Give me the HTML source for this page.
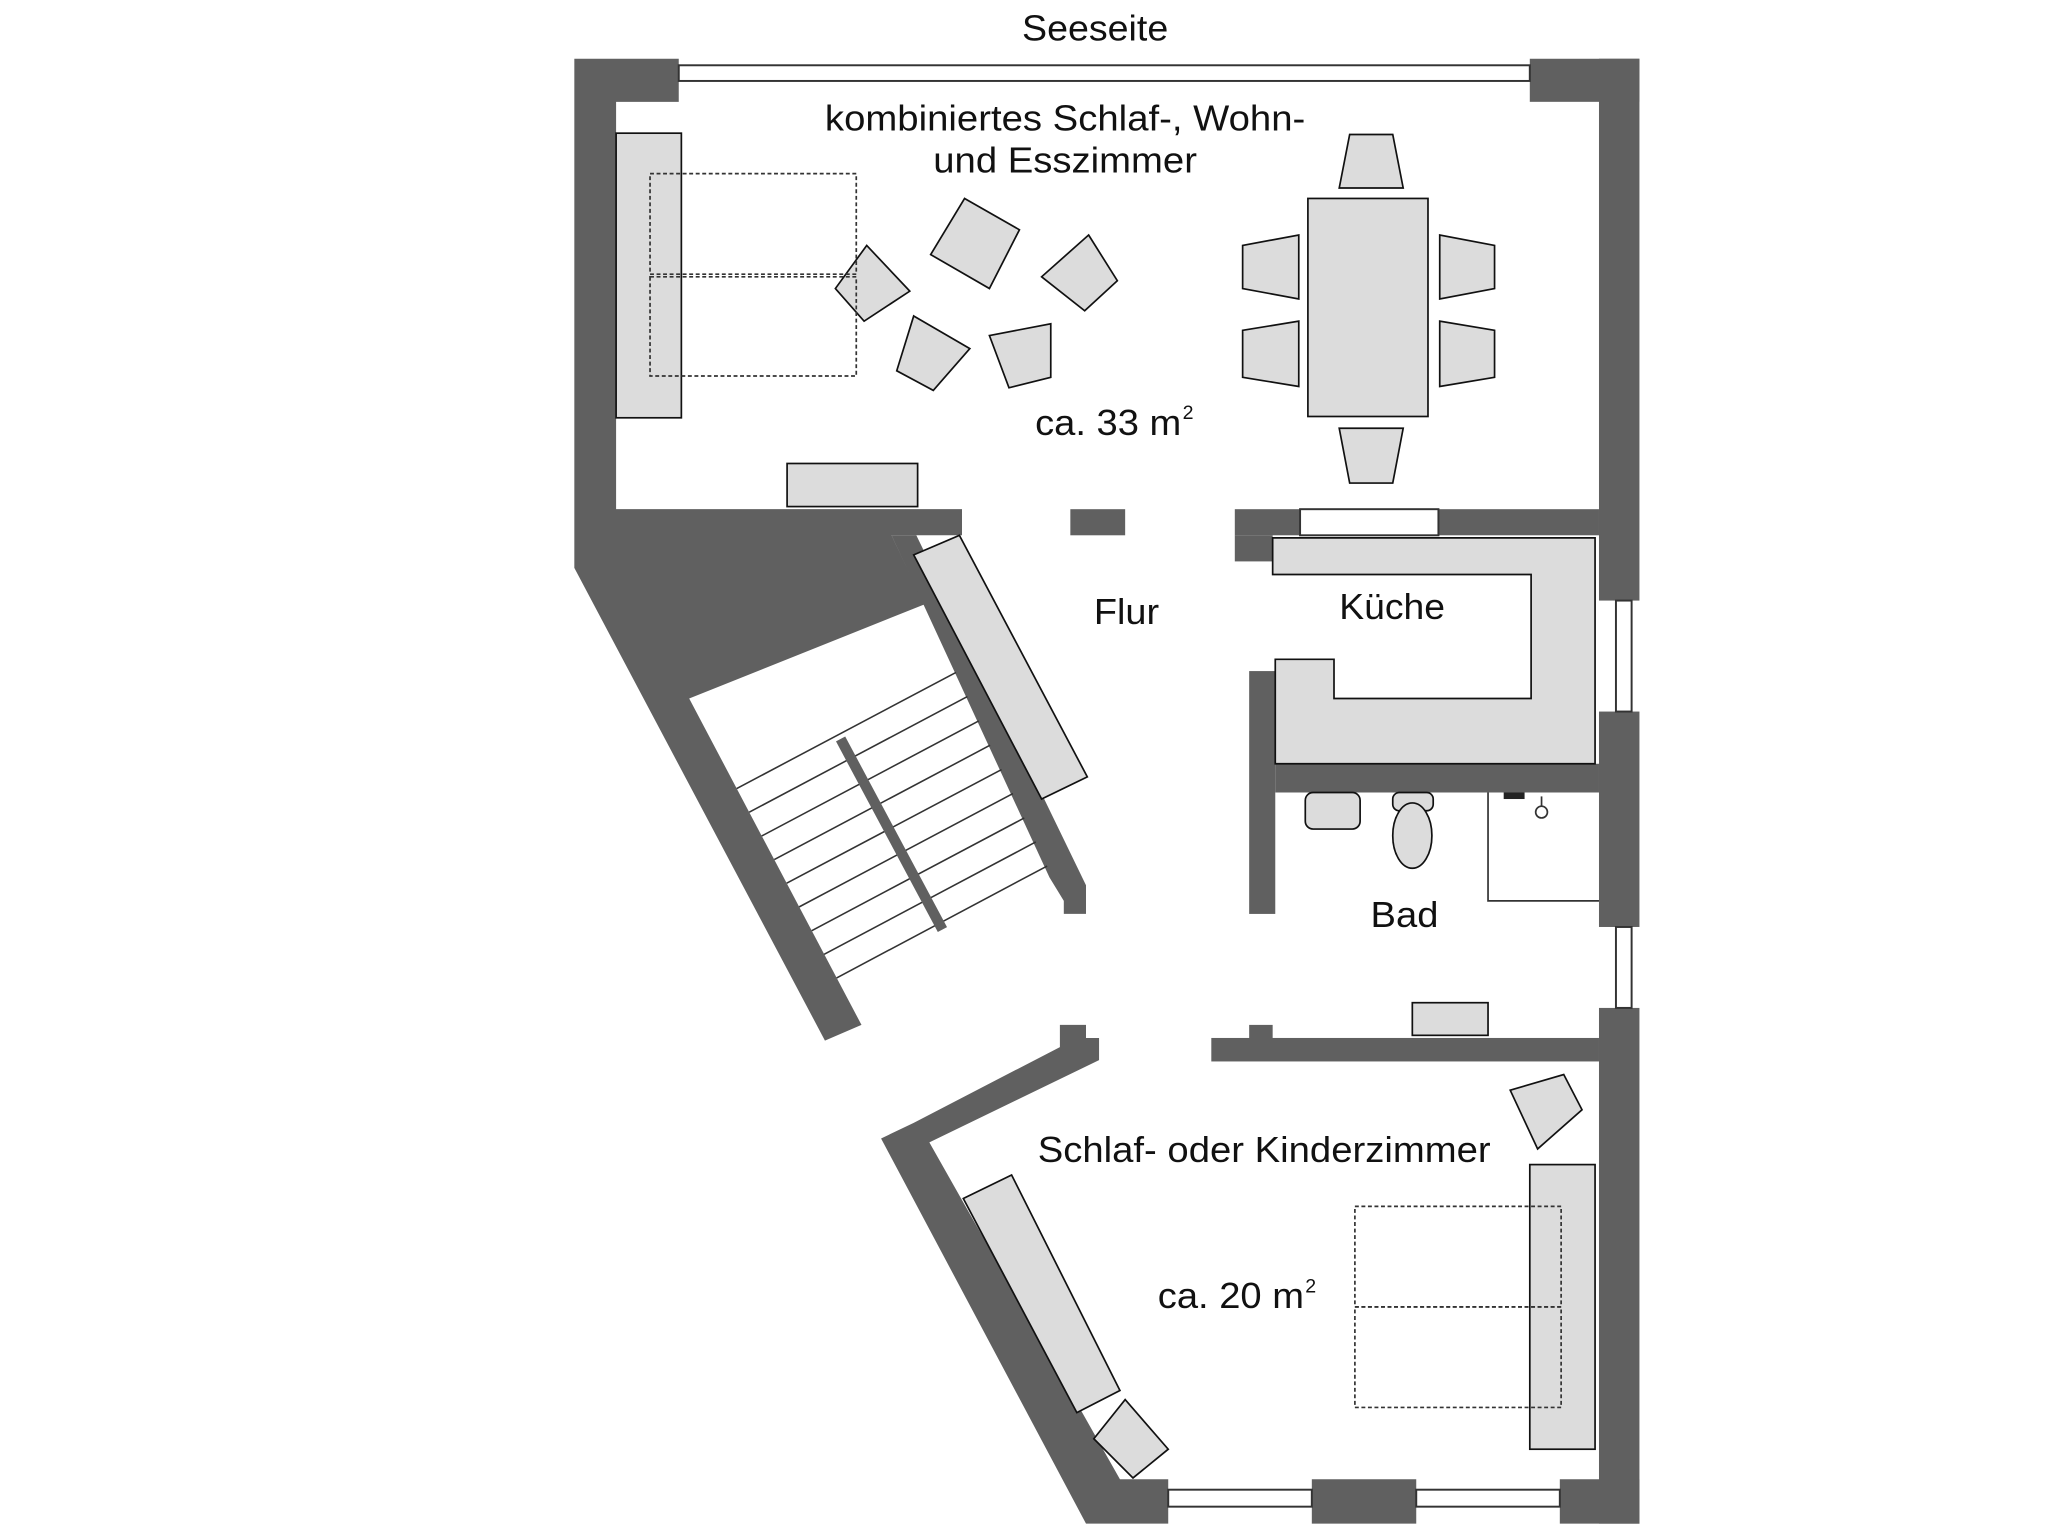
<!DOCTYPE html>
<html><head><meta charset="utf-8"><style>html,body{margin:0;padding:0;background:#fff}svg{display:block}</style></head>
<body>
<svg xmlns="http://www.w3.org/2000/svg" width="2048" height="1538" viewBox="0 0 1569 1178" preserveAspectRatio="none">
<g fill="#606060">
<polygon points="440,45 520,45 520,78 472,78 472,390 737,390 737,410 683,410 708,463 528,535 660,785 632,797 440,435"/>
<polygon points="683,410 702,410 832,678 832,700 815,700 815,690 804,672"/>
<rect x="1172" y="45" width="84" height="33"/>
<rect x="1225" y="45" width="31" height="415"/>
<rect x="1225" y="545" width="31" height="165"/>
<rect x="1225" y="772" width="31" height="395"/>
<rect x="820" y="390" width="42" height="20"/>
<rect x="946" y="390" width="50" height="20"/>
<rect x="946" y="410" width="29" height="20"/>
<rect x="1102" y="390" width="123" height="20"/>
<rect x="957" y="514" width="20" height="186"/>
<rect x="977" y="585" width="248" height="22"/>
<rect x="928" y="795" width="297" height="18"/>
<rect x="957" y="785" width="18" height="12"/>
<polygon points="812,785 832,785 832,795 842,795 842,812 712,875 858,1133 895,1133 895,1167 832,1167 675,872 700,860 812,802"/>
<rect x="1005" y="1133" width="80" height="34"/>
<rect x="1195" y="1133" width="61" height="34"/>
</g>
<g fill="#fff" stroke="#333" stroke-width="1.5">
<rect x="520" y="50" width="652" height="12"/>
<rect x="1238" y="460" width="12" height="85"/>
<rect x="1238" y="710" width="12" height="62"/>
<rect x="895" y="1141" width="110" height="13"/>
<rect x="1085" y="1141" width="110" height="13"/>
<rect x="996" y="390" width="106" height="20"/>
</g>
<g stroke="#333" stroke-width="1.2">
<line x1="564.4" y1="604" x2="732.4" y2="515"/>
<line x1="574.0" y1="622.1" x2="741.1" y2="533.5"/>
<line x1="583.6" y1="640.3" x2="749.8" y2="552.2"/>
<line x1="593.2" y1="658.4" x2="758.5" y2="570.8"/>
<line x1="602.7" y1="676.5" x2="767.3" y2="589.4"/>
<line x1="612.3" y1="694.6" x2="776.0" y2="607.8"/>
<line x1="621.9" y1="712.8" x2="784.7" y2="626.5"/>
<line x1="631.4" y1="730.9" x2="793.5" y2="644.9"/>
<line x1="641.0" y1="749" x2="802.2" y2="663.3"/>
</g>
<line x1="644" y1="566" x2="722" y2="712" stroke="#606060" stroke-width="8"/>
<g fill="#dcdcdc" stroke="#111" stroke-width="1.3">
<rect x="472" y="102" width="50" height="218"/>
<rect x="603" y="355" width="100" height="33"/>
<polygon points="700,425 735,410 833,595 798,612"/>
<polygon points="664,188 697,223 662,246 640,221"/>
<polygon points="739,152 781,176 758,221 713,195"/>
<polygon points="834,180 856,215 831,238 798,212"/>
<polygon points="700,242 743,267 715,299 687,284"/>
<polygon points="758,257 805,248 805,289 773,297"/>
<rect x="1002" y="152" width="92" height="167"/>
<polygon points="1034,103 1067,103 1075,144 1026,144"/>
<polygon points="1026,328 1075,328 1067,370 1034,370"/>
<polygon points="995,180 995,229 952,221 952,188"/>
<polygon points="995,246 995,296 952,289 952,253"/>
<polygon points="1103,180 1103,229 1145,221 1145,188"/>
<polygon points="1103,246 1103,296 1145,289 1145,253"/>
<polygon points="975,412 1222,412 1222,585 977,585 977,505 1022,505 1022,535 1173,535 1173,440 975,440"/>
<rect x="1000" y="607" width="42" height="28" rx="6"/>
<rect x="1067" y="607" width="31" height="14" rx="5"/>
<ellipse cx="1082" cy="640" rx="15" ry="25"/>
<rect x="1082" y="768" width="58" height="25"/>
<polygon points="738,918 775,900 858,1065 825,1082"/>
<polygon points="838,1102 862,1072 895,1110 868,1132"/>
<polygon points="1157,835 1198,823 1212,850 1178,880"/>
<rect x="1172" y="892" width="50" height="218"/>
</g>
<g fill="none" stroke="#333" stroke-width="1.3" stroke-dasharray="3,2">
<rect x="498" y="133" width="158" height="77"/>
<rect x="498" y="212" width="158" height="76"/>
<rect x="1038" y="924" width="158" height="77"/>
<rect x="1038" y="1001" width="158" height="77"/>
</g>
<g stroke="#333" stroke-width="1.3" fill="none">
<polyline points="1140,607 1140,690 1225,690"/>
<line x1="1181" y1="610" x2="1181" y2="618"/>
<circle cx="1181" cy="622" r="4.5" fill="#fff"/>
</g>
<rect x="1152" y="607" width="16" height="5" fill="#222"/>
<g font-family="Liberation Sans, Arial, sans-serif" font-size="28" fill="#111" lengthAdjust="spacingAndGlyphs">
<text x="783" y="31" textLength="112" lengthAdjust="spacingAndGlyphs">Seeseite</text>
<text x="632" y="100" textLength="368" lengthAdjust="spacingAndGlyphs">kombiniertes Schlaf-, Wohn-</text>
<text x="715" y="132" textLength="202" lengthAdjust="spacingAndGlyphs">und Esszimmer</text>
<text x="793" y="333" textLength="112" lengthAdjust="spacingAndGlyphs">ca. 33 m</text>
<text x="906" y="321" font-size="15">2</text>
<text x="838" y="478" textLength="50" lengthAdjust="spacingAndGlyphs">Flur</text>
<text x="1026" y="474" textLength="81" lengthAdjust="spacingAndGlyphs">Küche</text>
<text x="1050" y="710" textLength="52" lengthAdjust="spacingAndGlyphs">Bad</text>
<text x="795" y="890" textLength="347" lengthAdjust="spacingAndGlyphs">Schlaf- oder Kinderzimmer</text>
<text x="887" y="1002" textLength="112" lengthAdjust="spacingAndGlyphs">ca. 20 m</text>
<text x="1000" y="990" font-size="15">2</text>
</g>
</svg>
</body></html>
